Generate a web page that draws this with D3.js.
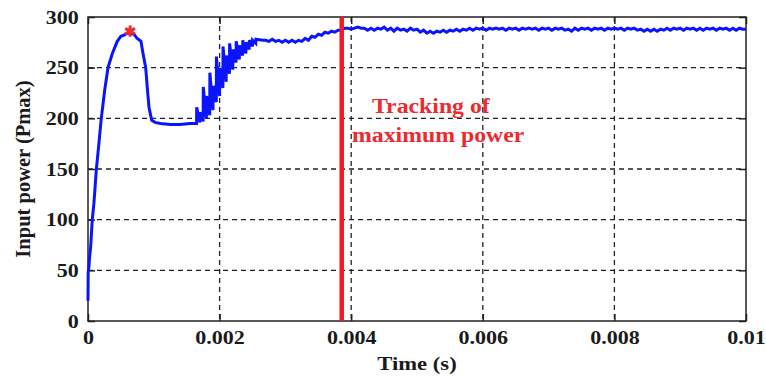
<!DOCTYPE html>
<html>
<head>
<meta charset="utf-8">
<script src="https://cdn.jsdelivr.net/npm/d3@7"></script>
<style>
  body { margin: 0; background: #fff; }
  svg text { font-family: "Liberation Serif", "Times New Roman", Times, serif !important; font-weight: 700; }
</style>
</head>
<body>
<div id="chart"></div>
<script>
// sampled input power trace (time in s, power)
const timeA = [0, 0.000003, 0.00001, 0.000015, 0.000023, 0.00004, 0.000065, 0.00009, 0.000126, 0.000167,
  0.0002, 0.000254, 0.000304, 0.00037, 0.000445, 0.0005, 0.000547, 0.000593, 0.000653, 0.0007,
  0.000745, 0.000805, 0.000836, 0.000877, 0.0009, 0.000927, 0.000968, 0.00102, 0.0011, 0.00125,
  0.0014, 0.00155, 0.00164];
const powerA = [20, 48, 52, 54, 62, 73, 100, 116, 149, 176,
  199, 228, 250, 264, 276, 281, 282, 284, 284, 283,
  279, 276, 264, 250, 231, 211, 198, 196, 195, 194,
  194, 195, 195];

// oscillating climb
const timeB = [0.00165, 0.001652, 0.0017, 0.001702, 0.00175, 0.001752, 0.0018, 0.001802, 0.00185, 0.001852,
  0.0019, 0.001902, 0.00195, 0.001952, 0.002, 0.002002, 0.00205, 0.002052, 0.0021, 0.002102,
  0.00215, 0.002152, 0.0022, 0.002202, 0.00225, 0.002252, 0.0023, 0.002302, 0.00235, 0.002352,
  0.0024, 0.002402, 0.00245, 0.002452, 0.0025, 0.002502, 0.00255, 0.002552, 0.00266];
const powerB = [195, 211, 196, 206, 197, 231, 200, 222, 203, 245,
  208, 232, 216, 261, 222, 250, 230, 271, 236, 262,
  244, 274, 248, 268, 255, 276, 258, 272, 262, 277,
  264, 275, 268, 277, 271, 277, 274, 278, 277];

// slow approach to the maximum
const timeC = [0.0027, 0.00275, 0.0028, 0.00285, 0.0029, 0.00295, 0.003, 0.00305, 0.0031, 0.00315,
  0.0032, 0.00325, 0.0033, 0.00335, 0.0034, 0.00345, 0.0035, 0.00355, 0.0036, 0.00365,
  0.0037, 0.00375, 0.0038, 0.00385, 0.0039];
const powerC = [277, 276, 278, 276, 277, 275, 277, 275, 277, 275,
  277, 276, 279, 277, 281, 280, 283, 282, 285, 284,
  286, 285, 287, 287, 289];

// steady state
const timeD = [0.00395, 0.004, 0.00405, 0.0041, 0.00415, 0.0042, 0.00425, 0.0043, 0.00435, 0.0044,
  0.00445, 0.0045, 0.00455, 0.0046, 0.00465, 0.0047, 0.00475, 0.0048, 0.00485, 0.0049,
  0.00495, 0.005, 0.00505, 0.0051, 0.00515, 0.0052, 0.00525, 0.0053, 0.00535, 0.0054,
  0.00545, 0.0055, 0.00555, 0.0056, 0.00565, 0.0057, 0.00575, 0.0058, 0.00585, 0.0059,
  0.00595, 0.006, 0.00605, 0.0061, 0.00615, 0.0062, 0.00625, 0.0063, 0.00635, 0.0064,
  0.00645, 0.0065, 0.00655, 0.0066, 0.00665, 0.0067, 0.00675, 0.0068, 0.00685, 0.0069,
  0.00695, 0.007, 0.00705, 0.0071, 0.00715, 0.0072, 0.00725, 0.0073, 0.00735, 0.0074,
  0.00745, 0.0075, 0.00755, 0.0076, 0.00765, 0.0077, 0.00775, 0.0078, 0.00785, 0.0079,
  0.00795, 0.008, 0.00805, 0.0081, 0.00815, 0.0082, 0.00825, 0.0083, 0.00835, 0.0084,
  0.00845, 0.0085, 0.00855, 0.0086, 0.00865, 0.0087, 0.00875, 0.0088, 0.00885, 0.0089,
  0.00895, 0.009, 0.00905, 0.0091, 0.00915, 0.0092, 0.00925, 0.0093, 0.00935, 0.0094,
  0.00945, 0.0095, 0.00955, 0.0096, 0.00965, 0.0097, 0.00975, 0.0098, 0.00985, 0.0099,
  0.00995, 0.01];
const powerD = [289, 288, 289, 290, 289, 289, 287, 289, 287, 289,
  288, 290, 287, 289, 286, 289, 287, 288, 286, 289,
  287, 288, 285, 287, 284, 286, 284, 286, 285, 287,
  285, 287, 286, 288, 286, 288, 287, 289, 287, 289,
  288, 289, 287, 289, 288, 289, 288, 289, 287, 289,
  288, 289, 287, 289, 288, 289, 288, 289, 287, 289,
  288, 289, 287, 289, 288, 289, 287, 288, 286, 289,
  287, 289, 288, 289, 287, 289, 288, 289, 287, 289,
  288, 289, 288, 289, 287, 289, 288, 289, 287, 288,
  286, 288, 286, 288, 286, 288, 287, 289, 287, 289,
  288, 289, 287, 289, 288, 289, 287, 289, 287, 289,
  288, 289, 287, 289, 288, 289, 287, 289, 287, 289,
  288, 288];

const xTicks = [0, 0.002, 0.004, 0.006, 0.008, 0.01];
const yTicks = [0, 50, 100, 150, 200, 250, 300];
const peakPoint = { t: 0.00064, p: 286 };
const trackingTime = 0.003856;
const noteLines = ["Tracking of", "maximum power"];

const time = [...timeA, ...timeB, ...timeC, ...timeD];
const power = [...powerA, ...powerB, ...powerC, ...powerD];
const series = time.map((t, i) => ({ t, p: power[i] }));

const W = 766, H = 377;
const margin = { top: 17, right: 20, bottom: 56, left: 88 };
const width = W - margin.left - margin.right;
const height = H - margin.top - margin.bottom;
const stretch = 1.16;

const svg = d3.select("#chart").append("svg")
  .attr("width", W).attr("height", H);
const g = svg.append("g").attr("transform", `translate(${margin.left},${margin.top})`);

const x = d3.scaleLinear().domain([0, 0.01]).range([0, width]);
const y = d3.scaleLinear().domain([0, 300]).range([height, 0]);

// grid
g.append("g").selectAll("line")
  .data(xTicks.slice(1, -1)).join("line")
  .attr("x1", d => x(d)).attr("x2", d => x(d))
  .attr("y1", 0).attr("y2", height)
  .attr("stroke", "#222").attr("stroke-width", 1.3).attr("stroke-dasharray", "5,4");
g.append("g").selectAll("line")
  .data(yTicks.slice(1, -1)).join("line")
  .attr("x1", 0).attr("x2", width)
  .attr("y1", d => y(d)).attr("y2", d => y(d))
  .attr("stroke", "#222").attr("stroke-width", 1.3).attr("stroke-dasharray", "5,4");

// axes, ticks pointing inward
const styleAxis = (sel) => {
  sel.attr("font-family", null);
  sel.select(".domain").remove();
  sel.selectAll("line").attr("stroke", "#222").attr("stroke-width", 1.5);
  sel.selectAll("text").attr("fill", "#1a1a1a").attr("font-size", "19px");
};

g.append("g")
  .attr("transform", `translate(0,${height})`)
  .call(d3.axisBottom(x).tickValues(xTicks).tickSize(-7).tickPadding(10).tickFormat(d => d === 0 ? "0" : String(+d.toFixed(3))))
  .call(styleAxis)
  .selectAll("text").attr("transform", `scale(${stretch},1)`);
g.append("g")
  .call(d3.axisLeft(y).tickValues(yTicks).tickSize(-7).tickPadding(8))
  .call(styleAxis)
  .selectAll("text").attr("transform", `scale(${stretch},1)`);
g.append("g")
  .call(d3.axisTop(x).tickValues(xTicks).tickSize(-7).tickFormat(""))
  .call(styleAxis);
g.append("g")
  .attr("transform", `translate(${width},0)`)
  .call(d3.axisRight(y).tickValues(yTicks).tickSize(-7).tickFormat(""))
  .call(styleAxis);

// frame
g.append("rect")
  .attr("width", width).attr("height", height)
  .attr("fill", "none").attr("stroke", "#222").attr("stroke-width", 1.5);

// power trace
const line = d3.line().x(d => x(d.t)).y(d => y(d.p));
g.append("path")
  .datum(series)
  .attr("fill", "none")
  .attr("stroke", "#0a14ff")
  .attr("stroke-width", 3)
  .attr("stroke-linejoin", "miter")
  .attr("d", line);

// tracking marker
g.append("line")
  .attr("x1", x(trackingTime)).attr("x2", x(trackingTime))
  .attr("y1", 0).attr("y2", height)
  .attr("stroke", "#ee1c25").attr("stroke-width", 4.5);

g.append("path")
  .attr("transform", `translate(${x(peakPoint.t)},${y(peakPoint.p)})`)
  .attr("d", d3.symbol(d3.symbolAsterisk).size(90)())
  .attr("stroke", "#ee2a30").attr("stroke-width", 3);

// note
const notePos = [{ x: 372 - margin.left, y: 113 - margin.top }, { x: 352 - margin.left, y: 142 - margin.top }];
g.selectAll(".note")
  .data(noteLines).join("text")
  .attr("class", "note")
  .attr("transform", (d, i) => `translate(${notePos[i].x},${notePos[i].y}) scale(${stretch},1)`)
  .attr("fill", "#ec2a30")
  .attr("font-size", "20.5px")
  .text(d => d);

// axis titles
svg.append("text")
  .attr("transform", `translate(${margin.left + width / 2},370) scale(${stretch},1)`)
  .attr("text-anchor", "middle")
  .attr("fill", "#1a1a1a")
  .attr("font-size", "19.5px")
  .text("Time (s)");
svg.append("text")
  .attr("transform", `translate(23,${margin.top + height / 2}) rotate(-90)`)
  .attr("text-anchor", "middle")
  .attr("dy", "0.35em")
  .attr("fill", "#1a1a1a")
  .attr("font-size", "20.5px")
  .text("Input power (Pmax)");
</script>
</body>
</html>
